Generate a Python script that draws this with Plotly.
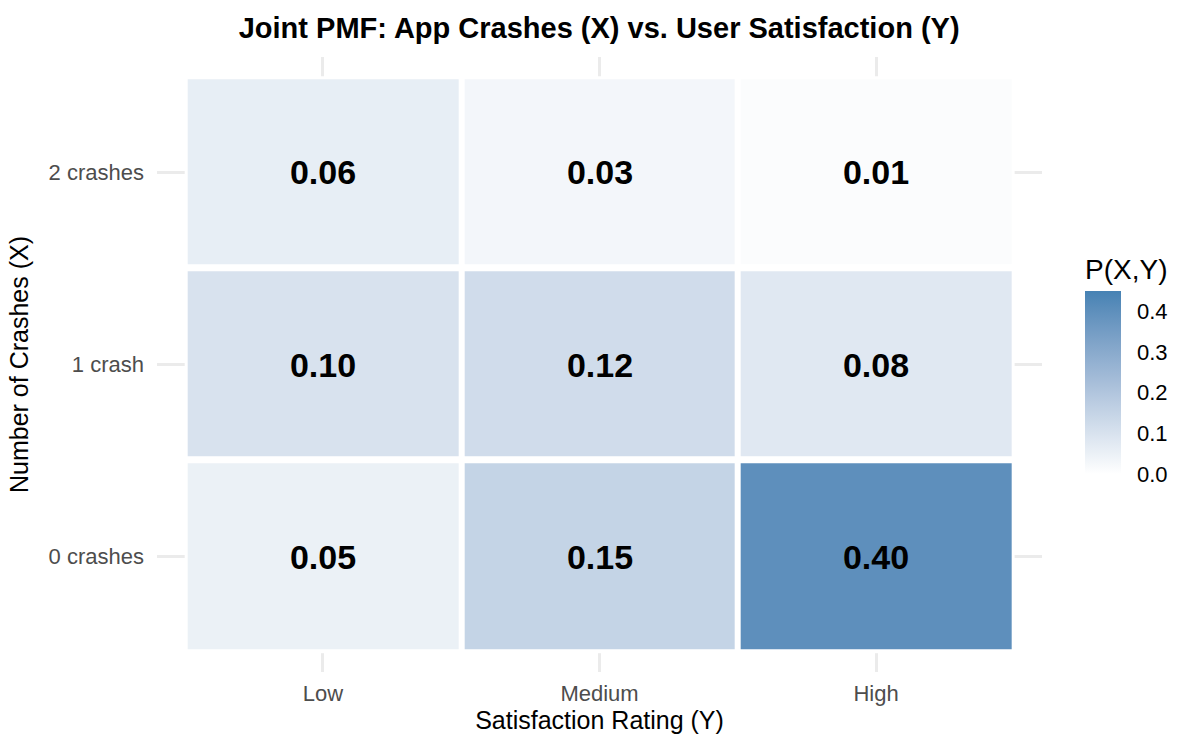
import plotly.graph_objects as go
import numpy as np

# ---- data ----
satisfaction = ["Low", "Medium", "High"]
crashes = ["0 crashes", "1 crash", "2 crashes"]
p_0_crashes = [0.05, 0.15, 0.40]
p_1_crash = [0.10, 0.12, 0.08]
p_2_crashes = [0.06, 0.03, 0.01]

z = [p_0_crashes, p_1_crash, p_2_crashes]
labels = [[f"{v:.2f}" for v in row] for row in z]

FONT = "Liberation Sans, Arial, sans-serif"

# white -> steelblue gradient interpolated in Lab space (like ggplot2)
def srgb_to_lin(c):
    c = c / 255.0
    return np.where(c <= 0.04045, c / 12.92, ((c + 0.055) / 1.055) ** 2.4)

def lin_to_srgb(c):
    c = np.clip(c, 0, 1)
    return 255 * np.where(c <= 0.0031308, 12.92 * c, 1.055 * c ** (1 / 2.4) - 0.055)

M = np.array([[0.4124, 0.3576, 0.1805], [0.2126, 0.7152, 0.0722], [0.0193, 0.1192, 0.9505]])
WP = np.array([0.95047, 1.0, 1.08883])

def rgb_to_lab(rgb):
    xyz = M @ srgb_to_lin(np.array(rgb, float)) / WP
    f = np.where(xyz > 0.008856, np.cbrt(xyz), 7.787 * xyz + 16 / 116)
    return np.array([116 * f[1] - 16, 500 * (f[0] - f[1]), 200 * (f[1] - f[2])])

def lab_to_rgb(lab):
    fy = (lab[0] + 16) / 116
    fx = fy + lab[1] / 500
    fz = fy - lab[2] / 200
    f = np.array([fx, fy, fz])
    xyz = np.where(f ** 3 > 0.008856, f ** 3, (f - 16 / 116) / 7.787) * WP
    return lin_to_srgb(np.linalg.solve(M, xyz))

lo, hi = rgb_to_lab([255, 255, 255]), rgb_to_lab([70, 130, 180])
colorscale = []
for t in np.linspace(0, 1, 11):
    r, g, b = lab_to_rgb(lo + (hi - lo) * t)
    colorscale.append([float(t), f"rgb({r:.0f},{g:.0f},{b:.0f})"])

fig = go.Figure()

# white backing so grid lines are hidden under tiles (tile borders)
fig.add_trace(go.Heatmap(
    x=satisfaction, y=crashes, z=[[0] * 3] * 3,
    colorscale=[[0, "white"], [1, "white"]], showscale=False, hoverinfo="skip",
))

fig.add_trace(go.Heatmap(
    x=satisfaction, y=crashes, z=z,
    text=labels, texttemplate="<b>%{text}</b>",
    textfont=dict(family=FONT, size=34, color="black"),
    colorscale=colorscale, zmin=0, zmax=0.45,
    xgap=6, ygap=7,
    colorbar=dict(
        title=dict(text="P(X,Y)", side="top", font=dict(family=FONT, size=28, color="black")),
        thickness=36, len=219, lenmode="pixels",
        x=1.0486, xanchor="left", xref="paper",
        y=0.3222, yanchor="bottom", yref="paper",
        outlinewidth=0, xpad=0, ypad=0,
        ticks="outside", tickcolor="rgba(0,0,0,0)", ticklen=12, tickwidth=1,
        tickvals=[0, 0.1, 0.2, 0.3, 0.4], ticktext=["0.0", "0.1", "0.2", "0.3", "0.4"],
        tickfont=dict(family=FONT, size=22, color="black"),
    ),
))

fig.update_layout(
    width=1200, height=750,
    margin=dict(l=157, r=158, t=57, b=78, autoexpand=False),
    paper_bgcolor="white", plot_bgcolor="white",
    font=dict(family=FONT),
    title=dict(
        text="<b>Joint PMF: App Crashes (X) vs. User Satisfaction (Y)</b>",
        x=0.4996, xanchor="center", xref="paper",
        y=1 - 28 / 750, yanchor="middle", yref="container",
        font=dict(family=FONT, size=29, color="black"),
    ),
    xaxis=dict(
        type="category", categoryorder="array", categoryarray=satisfaction,
        range=[-0.6, 2.6], showgrid=True, gridcolor="#EBEBEB", gridwidth=2.5,
        zeroline=False, showline=False, ticks="",
        tickfont=dict(family=FONT, size=22, color="#4D4D4D"),
        ticklabelstandoff=6,
        title=dict(text="Satisfaction Rating (Y)", standoff=5,
                   font=dict(family=FONT, size=25, color="black")),
    ),
    yaxis=dict(
        type="category", categoryorder="array", categoryarray=crashes,
        range=[-0.6, 2.6], showgrid=True, gridcolor="#EBEBEB", gridwidth=2.5,
        zeroline=False, showline=False, ticks="",
        tickfont=dict(family=FONT, size=22, color="#4D4D4D"),
        ticklabelstandoff=12,
        title=dict(text="Number of Crashes (X)", standoff=12,
                   font=dict(family=FONT, size=25, color="black")),
    ),
)

fig.write_html("out.html", config={"displayModeBar": False},
               post_script="document.body.style.margin='0';")
